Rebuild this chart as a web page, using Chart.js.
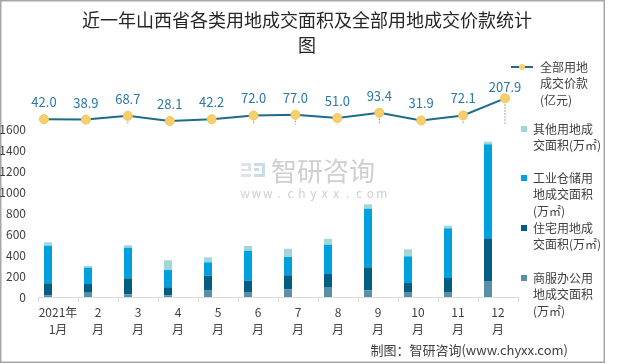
<!DOCTYPE html>
<html>
<head>
<meta charset="utf-8">
<script src="https://cdn.jsdelivr.net/npm/chart.js@4"></script>
<style>
  html, body { margin: 0; padding: 0; background: #fff; }
  #wrap { position: relative; width: 620px; height: 364px; }
</style>
</head>
<body>
<div id="wrap"><canvas id="chart" width="620" height="364"></canvas></div>
<script>
// data
var titleLines = ['近一年山西省各类用地成交面积及全部用地成交价款统计', '图'];
var monthLabels = [['2021年', '1月'], ['2', '月'], ['3', '月'], ['4', '月'], ['5', '月'], ['6', '月'],
                   ['7', '月'], ['8', '月'], ['9', '月'], ['10', '月'], ['11', '月'], ['12', '月']];
var priceValues = [42.0, 38.9, 68.7, 28.1, 42.2, 72.0, 77.0, 51.0, 93.4, 31.9, 72.1, 207.9];
var commercialArea = [15, 41, 25, 16, 61, 48, 74, 89, 64, 48, 48, 153];
var residentialArea = [116, 83, 154, 77, 143, 108, 134, 131, 220, 86, 134, 409];
var industrialArea = [360, 157, 293, 165, 128, 287, 175, 280, 561, 255, 475, 899];
var otherArea = [32, 16, 23, 93, 48, 45, 79, 58, 42, 67, 26, 25];
var yTicksShown = [0, 200, 400, 600, 800, 1000, 1200, 1400, 1600];

var priceName = ['全部用地', '成交价款', '(亿元)'];
var otherName = ['其他用地成', '交面积(万㎡)'];
var industrialName = ['工业仓储用', '地成交面积', '(万㎡)'];
var residentialName = ['住宅用地成', '交面积(万㎡)'];
var commercialName = ['商服办公用', '地成交面积', '(万㎡)'];
var footerText = '制图：智研咨询(www.chyxx.com)';

var FONT = "'Noto Sans CJK SC', 'Noto Sans', sans-serif";
var textColor = '#404040';
var colors = {
    line: '#1d6b8d',
    point: '#f7cf6b',
    commercial: '#5b8fa9',
    residential: '#045d82',
    industrial: '#00a1dd',
    other: '#a1d7d6'
};

function barSet(label, values, color) {
    return {
        type: 'bar',
        label: label.join(''),
        data: values,
        backgroundColor: color,
        xAxisID: 'x',
        yAxisID: 'y',
        categoryPercentage: 1,
        barPercentage: 0.4,
        order: 1
    };
}

var decor = {
    id: 'decor',
    beforeDraw(chart) {
        const ctx = chart.ctx;
        ctx.save();
        ctx.fillStyle = '#fff';
        ctx.fillRect(0, 0, chart.width, chart.height);
        ctx.strokeStyle = '#a6a6a6';
        ctx.lineWidth = 1.5;
        ctx.strokeRect(0.75, 0.75, 603.5, 361.5);

        // watermark
        ctx.fillStyle = '#dfe3e8';
        ctx.fillRect(241, 163, 10, 3);
        ctx.fillRect(248, 163, 3, 8);
        ctx.fillRect(241, 169, 10, 2);
        ctx.fillRect(241, 174, 10, 3);
        ctx.fillStyle = '#c9dcee';
        ctx.fillRect(254, 163, 11, 3);
        ctx.fillRect(262, 163, 3, 14);
        ctx.fillRect(254, 174, 11, 3);
        ctx.fillRect(254, 168, 5, 3);
        ctx.fillStyle = '#cfcfcf';
        ctx.font = '26px ' + FONT;
        ctx.textBaseline = 'middle';
        ctx.textAlign = 'left';
        ctx.fillText('智研咨询', 271, 171);
        ctx.font = '12px ' + FONT;
        ctx.textAlign = 'center';
        var wm = 'www.chyxx.com';
        for (let i = 0; i < wm.length; i++) {
            ctx.fillText(wm[i], 245 + i * 11.4, 193);
        }
        ctx.restore();
    },
    beforeDatasetsDraw(chart) {
        // dotted drop lines from each price point down to zero
        const ctx = chart.ctx;
        const meta = chart.getDatasetMeta(4);
        const zeroY = chart.scales.y1.getPixelForValue(0);
        ctx.save();
        ctx.strokeStyle = '#a0a0a0';
        ctx.lineWidth = 1.2;
        ctx.setLineDash([1.5, 1.5]);
        meta.data.forEach((pt) => {
            ctx.beginPath();
            ctx.moveTo(pt.x, pt.y);
            ctx.lineTo(pt.x, zeroY);
            ctx.stroke();
        });
        ctx.restore();
    },
    afterDraw(chart) {
        const ctx = chart.ctx;
        ctx.save();
        // title
        ctx.fillStyle = '#262626';
        ctx.font = '18px ' + FONT;
        ctx.textAlign = 'center';
        ctx.textBaseline = 'middle';
        ctx.fillText(titleLines[0], 307, 20);
        ctx.fillText(titleLines[1], 307, 45);

        // value labels on the line
        const meta = chart.getDatasetMeta(4);
        ctx.fillStyle = '#2b78a8';
        ctx.font = '13px ' + FONT;
        meta.data.forEach((pt, i) => {
            ctx.fillText(priceValues[i].toFixed(1), pt.x, Math.max(pt.y - 17, 87));
        });

        // legend
        ctx.textAlign = 'left';
        ctx.font = '12px ' + FONT;
        ctx.strokeStyle = colors.line;
        ctx.lineWidth = 2;
        ctx.beginPath();
        ctx.moveTo(511, 67);
        ctx.lineTo(533, 67);
        ctx.stroke();
        ctx.fillStyle = colors.point;
        ctx.beginPath();
        ctx.arc(522, 67, 3, 0, Math.PI * 2);
        ctx.fill();
        const drawText = (lines, x, y0) => {
            ctx.fillStyle = textColor;
            lines.forEach((t, k) => ctx.fillText(t, x, y0 + k * 16.5));
        };
        drawText(priceName, 540, 67);
        const items = [
            [otherName, colors.other, 129],
            [industrialName, colors.industrial, 178],
            [residentialName, colors.residential, 228],
            [commercialName, colors.commercial, 278]
        ];
        items.forEach((it) => {
            ctx.fillStyle = it[1];
            ctx.fillRect(521, it[2] - 3, 6, 6);
            drawText(it[0], 533, it[2]);
        });

        // footer
        ctx.fillStyle = textColor;
        ctx.font = '13px ' + FONT;
        ctx.textAlign = 'right';
        ctx.fillText(footerText, 568, 350);
        ctx.restore();
    }
};

var config = {
    data: {
        labels: monthLabels,
        datasets: [
            barSet(commercialName, commercialArea, colors.commercial),
            barSet(residentialName, residentialArea, colors.residential),
            barSet(industrialName, industrialArea, colors.industrial),
            barSet(otherName, otherArea, colors.other),
            {
                type: 'line',
                label: priceName.join(''),
                data: priceValues.map((v, i) => ({ x: i, y: v })),
                xAxisID: 'x1',
                yAxisID: 'y1',
                borderColor: colors.line,
                borderWidth: 2,
                pointRadius: 4.5,
                pointBackgroundColor: colors.point,
                pointBorderColor: '#f2c55c',
                pointBorderWidth: 1,
                clip: false,
                order: 0
            }
        ]
    },
    options: {
        responsive: false,
        animation: false,
        layout: { padding: { left: 0, top: 88, right: 102, bottom: 27 } },
        plugins: {
            legend: { display: false },
            title: { display: false },
            tooltip: { enabled: false }
        },
        scales: {
            x: {
                type: 'category',
                stacked: true,
                offset: true,
                grid: { display: true, drawOnChartArea: false, drawTicks: true, tickLength: 5, color: '#d9d9d9', offset: true },
                border: { color: '#d9d9d9' },
                ticks: { color: textColor, font: { size: 12, family: FONT, lineHeight: 1.4 }, padding: 2, maxRotation: 0, autoSkip: false },
                afterFit(s) { s.height = 40; }
            },
            x1: { type: 'linear', display: false, min: -0.143, max: 11.31 },
            y: {
                stacked: true,
                min: 0,
                max: 2000,
                grid: { display: false },
                border: { display: false },
                ticks: {
                    stepSize: 200,
                    color: textColor,
                    font: { size: 12, family: FONT },
                    padding: 4,
                    callback: (v) => yTicksShown.includes(v) ? v : ''
                },
                afterFit(s) { s.width = 38; }
            },
            y1: { type: 'linear', display: false, min: -1370, max: 290 }
        }
    },
    plugins: [decor]
};

var chart = new Chart(document.getElementById('chart'), config);
</script>
</body>
</html>
